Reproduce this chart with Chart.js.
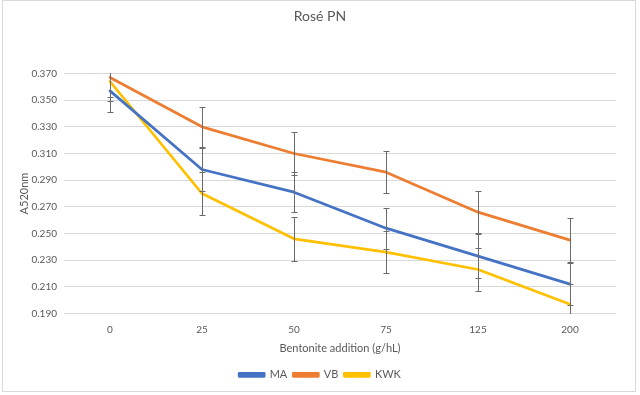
<!DOCTYPE html>
<html><head><meta charset="utf-8">
<script src="https://cdn.jsdelivr.net/npm/chart.js@4"></script>
<style>html,body{margin:0;padding:0;background:#fff}#wrap{width:640px;height:395px;position:relative}</style>
</head><body><div id="wrap"><canvas id="c" width="640" height="395"></canvas></div>
<script>
const categories = ['0', '25', '50', '75', '125', '200'];
const seriesNames = ['MA', 'VB', 'KWK'];
const maValues  = [0.357, 0.298, 0.281, 0.254, 0.233, 0.212];
const vbValues  = [0.367, 0.330, 0.310, 0.296, 0.266, 0.245];
const kwkValues = [0.364, 0.280, 0.246, 0.236, 0.223, 0.197];
const maErrors  = [0.0158, 0.0161, 0.0152, 0.0154, 0.0165, 0.0158];
const vbErrors  = [0.0173, 0.0150, 0.0162, 0.0159, 0.0155, 0.0167];
const kwkErrors = [0.0113, 0.0161, 0.0165, 0.0158, 0.0160, 0.0150];
const yMin = 0.19, yMax = 0.37, yStep = 0.02;

const FONT = 'Lato, "Open Sans", sans-serif';
const TXT = '#595959';

const errorBarPlugin = {
  id: 'errorBars',
  afterDatasetsDraw(chart) {
    const {ctx, chartArea, scales} = chart;
    const x = scales.x, y = scales.y;
    ctx.save();
    ctx.beginPath();
    ctx.rect(chartArea.left, chartArea.top - 0.5, chartArea.right - chartArea.left, chartArea.bottom - chartArea.top + 1);
    ctx.clip();
    ctx.strokeStyle = '#6b6b6b';
    ctx.lineWidth = 1;
    chart.data.datasets.forEach((ds, di) => {
      if (!chart.isDatasetVisible(di)) return;
      ds.errors.forEach((e, i) => {
        const px = Math.round(x.getPixelForValue(i)) + 0.5;
        const yt = Math.round(y.getPixelForValue(ds.data[i] + e)) + 0.5;
        const yb = Math.round(y.getPixelForValue(ds.data[i] - e)) + 0.5;
        ctx.beginPath();
        ctx.moveTo(px, yt); ctx.lineTo(px, yb);
        ctx.moveTo(px - 3, yt); ctx.lineTo(px + 3, yt);
        ctx.moveTo(px - 3, yb); ctx.lineTo(px + 3, yb);
        ctx.stroke();
      });
    });
    ctx.restore();
  }
};

const framePlugin = {
  id: 'frame',
  beforeDraw(chart) {
    const ctx = chart.ctx;
    ctx.save();
    ctx.fillStyle = '#ffffff';
    ctx.fillRect(0, 0, chart.width, chart.height);
    ctx.strokeStyle = '#d9d9d9';
    ctx.lineWidth = 1;
    ctx.strokeRect(2.5, 0.5, 633, 391);
    ctx.restore();
  }
};

function mk(label, data, errors, color) {
  return {
    label, data, errors,
    borderColor: color, backgroundColor: color,
    borderWidth: 2.75, pointRadius: 0, pointHoverRadius: 0,
    tension: 0, borderJoinStyle: 'round', borderCapStyle: 'round',
    yAxisID: 'y'
  };
}

new Chart(document.getElementById('c'), {
  type: 'line',
  data: {
    labels: categories,
    datasets: [
      mk(seriesNames[0], maValues, maErrors, '#4472C4'),
      mk(seriesNames[1], vbValues, vbErrors, '#ED7D31'),
      mk(seriesNames[2], kwkValues, kwkErrors, '#FFC000')
    ]
  },
  options: {
    responsive: false,
    animation: false,
    devicePixelRatio: 1,
    layout: { padding: { left: 0, right: 0, top: 0, bottom: 4.75 } },
    plugins: {
      title: {
        display: true, text: 'Rosé PN', color: TXT,
        font: { family: FONT, size: 14, weight: 'normal' },
        padding: { top: 7.6, bottom: 49.1 }
      },
      legend: {
        position: 'bottom',
        labels: {
          color: TXT, boxWidth: 25, boxHeight: 3, padding: 6,
          font: { family: FONT, size: 11 }
        }
      },
      tooltip: { enabled: false }
    },
    scales: {
      x: {
        offset: true,
        grid: { display: false, drawTicks: false },
        border: { display: false },
        ticks: { color: TXT, font: { family: FONT, size: 10 }, padding: 10 },
        title: {
          display: true, text: 'Bentonite addition (g/hL)', color: TXT,
          font: { family: FONT, size: 11 }, padding: { top: 2, bottom: 8.45 }
        },
        afterFit(s) { s.height = 49.75; }
      },
      y: {
        position: 'left',
        min: yMin, max: yMax,
        grid: { color: '#d9d9d9', lineWidth: 1, drawTicks: false },
        border: { display: false },
        ticks: {
          stepSize: yStep, color: TXT, padding: 7,
          font: { family: FONT, size: 10 },
          callback: v => Number(v).toFixed(3)
        },
        title: {
          display: true, text: 'A520nm', color: TXT,
          font: { family: FONT, size: 11 }, padding: { top: 17.5, bottom: 0 }
        },
        afterFit(s) { s.width = 64; }
      },
      yR: {
        position: 'right',
        display: true,
        grid: { display: false, drawTicks: false },
        border: { display: false },
        ticks: { display: false },
        afterFit(s) { s.width = 24; }
      }
    }
  },
  plugins: [framePlugin, errorBarPlugin]
});
</script>
</body></html>
